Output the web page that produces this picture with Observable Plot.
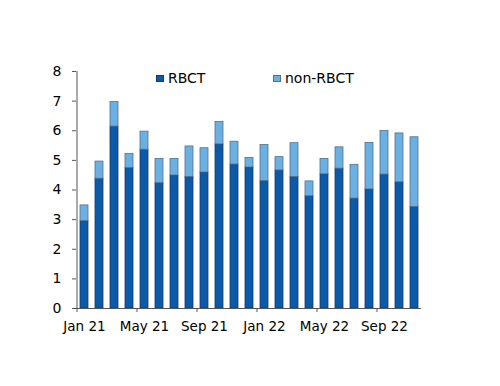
<!DOCTYPE html>
<html>
<head>
<meta charset="utf-8">
<script src="https://cdn.jsdelivr.net/npm/d3@7"></script>
<script src="https://cdn.jsdelivr.net/npm/@observablehq/plot@0.6"></script>
<style>
  body { margin: 0; background: #fff; }
  #wrap { position: relative; width: 500px; height: 386px; font-family: "DejaVu Sans", Verdana, sans-serif; }
  .leg { position: absolute; top: 70px; font-size: 14px; line-height: 17px; color: #000; display: flex; align-items: center; }
  .sw { width: 6px; height: 5px; margin-right: 4px; border: 1px solid; }
</style>
</head>
<body>
<div id="wrap">
  <div class="leg" style="left:156px"><span class="sw" style="background:#0b5aa8;border-color:#1c3570"></span>RBCT</div>
  <div class="leg" style="left:273px"><span class="sw" style="background:#6ab0e2;border-color:#55708a"></span>non-RBCT</div>
</div>
<script>
const months = ["Jan 21","Feb 21","Mar 21","Apr 21","May 21","Jun 21","Jul 21","Aug 21","Sep 21","Oct 21","Nov 21","Dec 21",
                "Jan 22","Feb 22","Mar 22","Apr 22","May 22","Jun 22","Jul 22","Aug 22","Sep 22","Oct 22","Nov 22"];
const totals = [3.48,4.96,6.97,5.22,5.97,5.05,5.05,5.47,5.41,6.30,5.63,5.08,
                5.52,5.11,5.58,4.29,5.05,5.44,4.85,5.59,5.99,5.91,5.78];
const rbct =   [2.95,4.38,6.14,4.74,5.36,4.23,4.49,4.44,4.59,5.54,4.86,4.76,
                4.30,4.66,4.44,3.79,4.53,4.72,3.71,4.02,4.52,4.26,3.43];
const labelMonths = ["Jan 21","May 21","Sep 21","Jan 22","May 22","Sep 22"];
const yTicks = [0,1,2,3,4,5,6,7,8];
const seriesNames = ["RBCT","non-RBCT"];

const data = [];
months.forEach((m, i) => {
  data.push({month: m, series: seriesNames[0], value: rbct[i]});
  data.push({month: m, series: seriesNames[1], value: +(totals[i] - rbct[i]).toFixed(2)});
});

const chart = Plot.plot({
  width: 500,
  height: 386,
  marginLeft: 76,
  marginRight: 79,
  marginTop: 71,
  marginBottom: 78,
  style: {fontFamily: "DejaVu Sans, Verdana, sans-serif", fontSize: "13px", color: "#000", background: "#fff"},
  x: {domain: months, type: "band", paddingInner: 0.49, paddingOuter: 0.245, align: 0.5},
  y: {domain: [0, 8]},
  color: {domain: seriesNames, range: ["#0b5aa8", "#6ab0e2"]},
  marks: [
    Plot.barY(data, Plot.stackY({x: "month", y: "value", fill: "series", order: seriesNames,
      stroke: d => d.series === seriesNames[0] ? "#1c3570" : "#55708a", strokeWidth: 0.8})),
    Plot.ruleY([0], {stroke: "#555", strokeWidth: 1}),
    Plot.ruleX([months[0]], {dx: -7.5, stroke: "#555", strokeWidth: 1}),
    Plot.axisY({ticks: yTicks, tickSize: 4, tickPadding: 11, stroke: "#555", fill: "#000", label: null, fontSize: 14}),
    Plot.axisX({ticks: labelMonths, tickSize: 4, dx: -7.5, tickFormat: () => "", stroke: "#555", label: null}),
    Plot.axisX({ticks: labelMonths, tickSize: 0, tickPadding: 13, fill: "#000", label: null, fontSize: 13.5})
  ]
});
document.getElementById("wrap").prepend(chart);
</script>
</body>
</html>
